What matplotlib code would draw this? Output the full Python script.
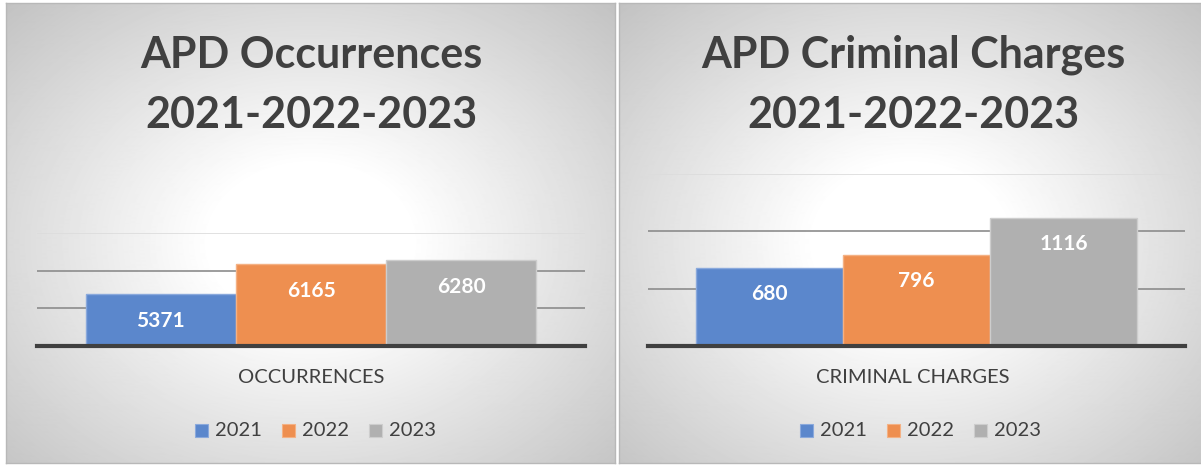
import matplotlib.pyplot as plt
import numpy as np

# data
years = ['2021', '2022', '2023']
occurrences = [5371, 6165, 6280]
charges = [680, 796, 1116]
colors = ['#5b87cc', '#ee8f50', '#b0b0b0']
edges = ['#8aa9dc', '#f4b184', '#cdcdcd']

plt.rcParams['font.family'] = ['Lato', 'DejaVu Sans']
txt = '#404040'

W, H = 1201, 465
fig = plt.figure(figsize=(W / 100, H / 100), dpi=100)
fig.patch.set_facecolor('white')


def background(x0, x1, y0=3, y1=463):
    ax = fig.add_axes([x0 / W, 1 - y1 / H, (x1 - x0) / W, (y1 - y0) / H])
    w = x1 - x0
    h = y1 - y0
    xx, yy = np.meshgrid(np.arange(w), np.arange(h))
    r = np.sqrt(((xx - w * 0.5) / (w * 0.55)) ** 2 + ((yy - 240) / 260.0) ** 2)
    v = 1 - 0.24 * np.clip(r - 0.3, 0, None)
    ax.imshow(v, cmap='gray', vmin=0, vmax=1, aspect='auto', interpolation='bilinear')
    ax.set_xticks([])
    ax.set_yticks([])
    for s in ax.spines.values():
        s.set_color('#b8b8b8')
        s.set_linewidth(1)


background(6, 615)
background(619, W + 2)


def panel(rect, values, ylim, step, title, category, cx, legx):
    ax = fig.add_axes(rect)
    ax.patch.set_alpha(0)
    ax.set_xlim(-0.5, 0.5)
    ax.set_ylim(ylim)
    ticks = np.arange(ylim[0] + step, ylim[1] + 1, step)
    gcols = ['#8c8c8c', '#8c8c8c', '#dcdcdc']
    for t, c in zip(ticks, gcols):
        ax.axhline(t, color=c, lw=1.2, zorder=1)
    bw = 0.274
    xs = (np.arange(3) - 1) * bw
    bars = ax.bar(xs, np.array(values) - ylim[0], bw, bottom=ylim[0], color=colors,
                  edgecolor=edges, linewidth=1, zorder=2)
    for b, v in zip(bars, values):
        ax.annotate(str(v), (b.get_x() + b.get_width() / 2, v), xytext=(0, -19),
                    textcoords='offset points', ha='center', va='center',
                    color='white', fontsize=15, fontweight='bold', zorder=3)
    ax.axhline(ylim[0], color='#404040', lw=3, zorder=4, clip_on=False)
    for s in ax.spines.values():
        s.set_visible(False)
    ax.set_xticks([])
    ax.set_yticks([])

    fig.text(cx / W, 1 - 55 / H, title[0], ha='center', va='center', fontsize=31,
             fontweight='bold', color=txt)
    fig.text(cx / W, 1 - 115 / H, title[1], ha='center', va='center', fontsize=31,
             fontweight='bold', color=txt)
    fig.text(cx / W, 1 - 377 / H, category, ha='center', va='center', fontsize=14.5, color=txt)
    for i, y in enumerate(years):
        x = legx + i * 87
        fig.patches.append(plt.Rectangle((x / W, 1 - 437 / H), 13 / W, 13 / H,
                                         transform=fig.transFigure, facecolor=colors[i],
                                         edgecolor=edges[i], lw=0.8))
        fig.text((x + 20) / W, 1 - 430 / H, y, ha='left', va='center', fontsize=14.5, color=txt)


panel([37 / W, 119 / H, 548 / W, 113 / H], occurrences, (4000, 7000), 1000,
      ['APD Occurrences', '2021-2022-2023'], 'OCCURRENCES', 311, 195)
panel([648 / W, 119 / H, 537 / W, 172 / H], charges, (0, 1500), 500,
      ['APD Criminal Charges', '2021-2022-2023'], 'CRIMINAL CHARGES', 913, 800)

plt.savefig('out.png', dpi=100)
